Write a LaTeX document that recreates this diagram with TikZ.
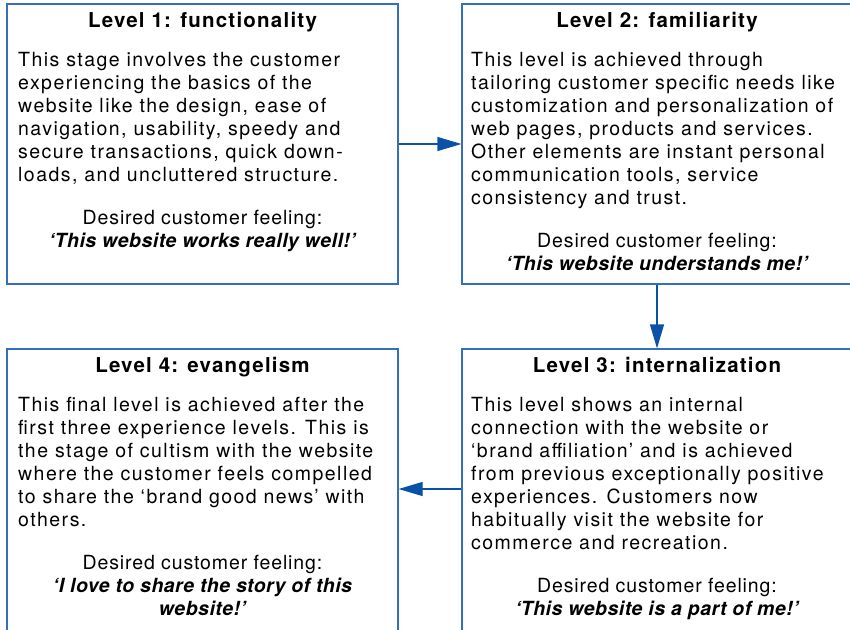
\documentclass[tikz,border=0pt]{standalone}
\usepackage{fontspec}
\setmainfont{TeX Gyre Heros}
\newfontfamily\lvtitlefont[LetterSpace=6]{TeX Gyre Heros}
\newfontfamily\lvbodyfont[LetterSpace=7.5]{TeX Gyre Heros}
\newfontfamily\lvfeelfont[LetterSpace=4.5]{TeX Gyre Heros}
\newfontfamily\lvquotefont[LetterSpace=2.5]{TeX Gyre Heros}
\usepackage{tikz}
\usetikzlibrary{arrows.meta,positioning}
\usepackage{xcolor}
\definecolor{lvblue}{RGB}{52,112,186}
\definecolor{lvdarkblue}{RGB}{10,82,168}
\newcommand{\lvquote}[1]{{\lvquotefont\bfseries\itshape #1}}
\tikzstyle{levelbox} = [rectangle, draw=lvblue, line width=1.2pt, inner sep=0pt]
\tikzstyle{flowarrow} = [line width=1.2pt, -{Triangle[length=24pt,width=14pt]}, color=lvdarkblue]
\tikzstyle{title} = [inner sep=0pt, anchor=base, font=\lvtitlefont\fontsize{20.5}{23}\selectfont\bfseries]
\tikzstyle{body} = [inner sep=0pt, anchor=base west, align=left, font=\lvbodyfont\fontsize{19.5}{23}\selectfont]
\tikzstyle{feeling} = [inner sep=0pt, anchor=base, align=center, font=\lvfeelfont\fontsize{19.5}{23}\selectfont]

\begin{document}
\begin{tikzpicture}[x=1pt, y=-1pt]
    \useasboundingbox (0,0) rectangle (850,629);

    % Level 1
    \node[levelbox, minimum width=391pt, minimum height=280pt] (func) at (202.5,144) {};
    \node[title] (functitle) at (202.5,27) {Level 1: functionality};
    \node[body] (functext) at (18,181) {This stage involves the customer\\experiencing the basics of the\\website like the design, ease of\\navigation, usability, speedy and\\secure transactions, quick down-\\loads, and uncluttered structure.};
    \node[feeling] (funcfeel) at (202.5,247) {Desired customer feeling:\\\lvquote{‘This website works really well!’}};

    % Level 2
    \node[levelbox, minimum width=390pt, minimum height=280pt] (famil) at (657,144) {};
    \node[title] (familtitle) at (657,27) {Level 2: familiarity};
    \node[body] (familtext) at (471,204) {This level is achieved through\\tailoring customer specific needs like\\customization and personalization of\\web pages, products and services.\\Other elements are instant personal\\communication tools, service\\consistency and trust.};
    \node[feeling] (familfeel) at (657,270) {Desired customer feeling:\\\lvquote{‘This website understands me!’}};

    % Level 3
    \node[levelbox, minimum width=390pt, minimum height=291pt] (intern) at (657,494.5) {};
    \node[title] (interntitle) at (657,372) {Level 3: internalization};
    \node[body] (interntext) at (471,549) {This level shows an internal\\connection with the website or\\‘brand affiliation’ and is achieved\\from previous exceptionally positive\\experiences. Customers now\\habitually visit the website for\\commerce and recreation.};
    \node[feeling] (internfeel) at (657,615) {Desired customer feeling:\\\lvquote{‘This website is a part of me!’}};

    % Level 4
    \node[levelbox, minimum width=391pt, minimum height=291pt] (evang) at (202.5,494.5) {};
    \node[title] (evangtitle) at (202.5,372) {Level 4: evangelism};
    \node[body] (evangtext) at (18,526) {This final level is achieved after the\\first three experience levels. This is\\the stage of cultism with the website\\where the customer feels compelled\\to share the ‘brand good news’ with\\others.};
    \node[feeling] (evangfeel) at (202.5,615) {Desired customer feeling:\\\lvquote{‘I love to share the story of this}\\\lvquote{website!’}};

    % Arrows
    \draw[flowarrow] (func.east) -- (famil.west);
    \draw[flowarrow] (famil.south) -- (intern.north);
    \draw[flowarrow] ([yshift=5.5pt]intern.west) -- ([yshift=5.5pt]evang.east);
\end{tikzpicture}
\end{document}
